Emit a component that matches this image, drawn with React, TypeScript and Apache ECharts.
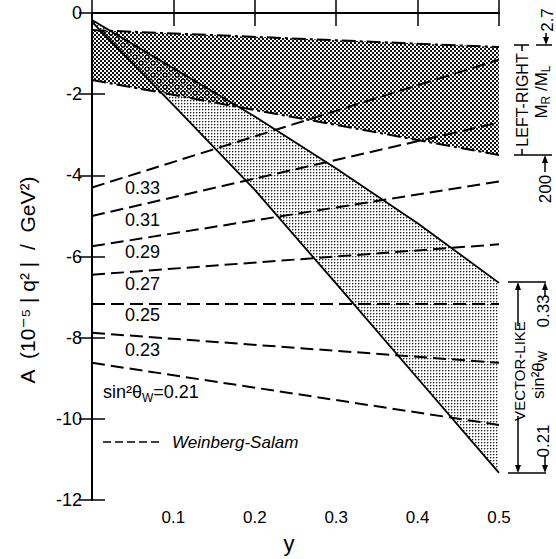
import React, { useEffect, useRef } from 'react';
import * as echarts from 'echarts';

// x positions (y variable)
const wsX = [0, 0.5];
// Weinberg-Salam predictions for several sin^2 theta_W
const ws033 = [-4.3, -1.15];
const ws031 = [-5.0, -2.7];
const ws029 = [-5.75, -4.15];
const ws027 = [-6.45, -5.7];
const ws025 = [-7.17, -7.17];
const ws023 = [-7.88, -8.62];
const ws021 = [-8.62, -10.15];
const wsLabels = ['0.33', '0.31', '0.29', '0.27', '0.25', '0.23'];

// Vector-like band (solid lines)
const vlX = [0, 0.1, 0.2, 0.3, 0.4, 0.5];
const vlUpper = [-0.17, -1.36, -2.55, -3.83, -5.18, -6.65];
const vlLower = [-0.22, -2.27, -4.36, -6.67, -9.0, -11.33];

// Left-right band (dash-dot lines)
const lrX = [0, 0.5];
const lrUpper = [-0.42, -0.84];
const lrLower = [-1.65, -3.5];

const FONT = 'Liberation Sans, Arial, DejaVu Sans, sans-serif';

function makePattern(size: number, cells: [number, number, string][]) {
  const c = document.createElement('canvas');
  c.width = size;
  c.height = size;
  const ctx = c.getContext('2d')!;
  for (const [x, y, col] of cells) {
    ctx.fillStyle = col;
    ctx.fillRect(x, y, 1, 1);
  }
  return { image: c, repeat: 'repeat', imageWidth: size, imageHeight: size } as any;
}

function regionSeries(pts: number[][], fill: any, z: number) {
  return {
    type: 'custom',
    coordinateSystem: 'cartesian2d',
    data: [pts[0]],
    z,
    silent: true,
    clip: true,
    renderItem: (_params: any, api: any) => ({
      type: 'polygon',
      shape: { points: pts.map((p) => api.coord(p)) },
      style: { fill, stroke: null },
    }),
  };
}

function lineSeries(xs: number[], ys: number[], type: any, width: number) {
  return {
    type: 'line',
    data: xs.map((x, i) => [x, ys[i]]),
    showSymbol: false,
    symbol: 'none',
    silent: true,
    z: 5,
    lineStyle: { color: '#000', width, type },
  };
}

function txt(text: string, x: number, y: number, size: number, opts: any = {}) {
  return {
    type: 'text',
    x,
    y,
    rotation: opts.rot || 0,
    z: 20,
    style: {
      text,
      fontSize: size,
      fontFamily: FONT,
      fontStyle: opts.italic ? 'italic' : 'normal',
      fill: '#000',
      align: opts.align || 'center',
      verticalAlign: 'middle',
      rich: opts.rich,
    },
  };
}

function seg(x1: number, y1: number, x2: number, y2: number, w = 1.5, dash?: number[]) {
  return {
    type: 'line',
    z: 20,
    shape: { x1, y1, x2, y2 },
    style: { stroke: '#000', lineWidth: w, lineDash: dash },
  };
}

function arrowHead(x: number, y: number, dir: 'up' | 'down') {
  const d = dir === 'up' ? 1 : -1;
  return {
    type: 'polygon',
    z: 20,
    shape: { points: [[x, y], [x - 3, y + 8 * d], [x + 3, y + 8 * d]] },
    style: { fill: '#000' },
  };
}

export default function App() {
  const ref = useRef<HTMLDivElement>(null);
  useEffect(() => {
    if (!ref.current) return;
    const chart = echarts.init(ref.current, undefined, { renderer: 'svg' });

    const lightFill = makePattern(3, [
      [1, 1, '#222'],
      [2, 1, '#aaa'],
      [1, 2, '#aaa'],
    ]);
    const darkFill = makePattern(4, [
      [0, 0, '#111'], [1, 0, '#111'], [0, 1, '#111'], [1, 1, '#111'],
      [2, 2, '#111'], [3, 2, '#111'], [2, 3, '#111'], [3, 3, '#111'],
    ]);

    const lightPoly = vlX.map((x, i) => [x, vlUpper[i]]).concat(
      vlX.map((x, i) => [x, vlLower[i]]).reverse()
    );
    const darkPoly = [
      [lrX[0], lrUpper[0]],
      [lrX[1], lrUpper[1]],
      [lrX[1], lrLower[1]],
      [lrX[0], lrLower[0]],
    ];

    const axisLine = { lineStyle: { color: '#000', width: 2 } };
    const axisTick = { inside: true, length: 13, lineStyle: { color: '#000', width: 1.5 } };
    const dashed = [13, 6];
    const dashDot = [14, 4, 3, 4];

    const subRich = {
      a: { fontSize: 18, fontFamily: FONT, lineHeight: 24, verticalAlign: 'middle' },
      s: { fontSize: 12, fontFamily: FONT, lineHeight: 24, verticalAlign: 'bottom' },
    };
    const subRich17 = {
      a: { fontSize: 17, fontFamily: FONT, lineHeight: 22, verticalAlign: 'middle' },
      s: { fontSize: 12, fontFamily: FONT, lineHeight: 22, verticalAlign: 'bottom' },
    };

    const wsLabelY = [188, 220, 252, 284, 315, 350];

    chart.setOption({
      animation: false,
      backgroundColor: '#fff',
      grid: { left: 92, top: 13, width: 407, height: 487, containLabel: false },
      xAxis: [
        {
          type: 'value', min: 0, max: 0.5, interval: 0.1, position: 'bottom',
          axisLine, axisTick, splitLine: { show: false },
          axisLabel: {
            color: '#000', fontSize: 17, fontFamily: FONT, margin: 9,
            formatter: (v: number) => (v === 0 ? '' : v.toFixed(1)),
          },
        },
        {
          type: 'value', min: 0, max: 0.5, interval: 0.1, position: 'top',
          axisLine, axisTick, splitLine: { show: false }, axisLabel: { show: false },
        },
      ],
      yAxis: [
        {
          type: 'value', min: -12, max: 0, interval: 2, position: 'left',
          axisLine, axisTick, splitLine: { show: false },
          axisLabel: { color: '#000', fontSize: 18, fontFamily: FONT, margin: 10 },
        },
        {
          type: 'value', min: -12, max: 0, interval: 2, position: 'right',
          axisLine, axisTick, splitLine: { show: false }, axisLabel: { show: false },
        },
      ],
      series: [
        regionSeries(lightPoly, lightFill, 1),
        regionSeries(darkPoly, darkFill, 2),
        lineSeries(vlX, vlUpper, 'solid', 1.8),
        lineSeries(vlX, vlLower, 'solid', 1.8),
        lineSeries(lrX, lrUpper, dashDot, 2),
        lineSeries(lrX, lrLower, dashDot, 2),
        lineSeries(wsX, ws033, dashed, 2),
        lineSeries(wsX, ws031, dashed, 2),
        lineSeries(wsX, ws029, dashed, 2),
        lineSeries(wsX, ws027, dashed, 2),
        lineSeries(wsX, ws025, dashed, 2),
        lineSeries(wsX, ws023, dashed, 2),
        lineSeries(wsX, ws021, dashed, 2),
      ],
      graphic: [
        // axis titles
        txt('A  (10⁻⁵ | q² |  /  GeV²)', 27, 280, 21, { rot: Math.PI / 2 }),
        txt('y', 289, 543, 22),
        // in-plot labels
        ...wsLabels.map((l, i) => txt(l, 125, wsLabelY[i], 18, { align: 'left' })),
        txt('{a|sin²θ}{s|W}{a|=0.21}', 103, 392, 18, { align: 'left', rich: subRich }),
        seg(103, 442, 163, 442, 1.5, [8, 4]),
        txt('Weinberg-Salam', 172, 442, 17, { align: 'left', italic: true }),
        // LEFT-RIGHT annotation
        seg(514, 45, 529, 45),
        seg(536, 45, 552, 45),
        seg(522, 45, 522, 51),
        seg(514, 155, 552, 155),
        seg(522, 149, 522, 155),
        txt('LEFT-RIGHT', 522, 100, 16, { rot: Math.PI / 2 }),
        txt('{a|M}{s|R}{a| /M}{s|L}', 541, 92, 17, { rot: Math.PI / 2, rich: subRich17 }),
        txt('2.7', 547, 20, 17, { rot: Math.PI / 2 }),
        seg(546, 33, 546, 40),
        arrowHead(546, 45, 'down'),
        txt('200', 545, 189, 17, { rot: Math.PI / 2 }),
        seg(545, 162, 545, 172),
        arrowHead(545, 155, 'up'),
        // VECTOR-LIKE annotation
        seg(508, 282, 546, 282),
        seg(508, 473, 546, 473),
        seg(518, 284, 518, 326),
        arrowHead(518, 282, 'up'),
        seg(518, 416, 518, 471),
        arrowHead(518, 473, 'down'),
        txt('VECTOR-LIKE', 519, 371, 15, { rot: Math.PI / 2 }),
        txt('{a|sin²θ}{s|W}', 538, 375, 17, { rot: Math.PI / 2, rich: subRich17 }),
        txt('0.33', 543, 311, 17, { rot: Math.PI / 2 }),
        seg(545, 290, 545, 297),
        arrowHead(545, 282, 'up'),
        txt('0.21', 543, 441, 17, { rot: Math.PI / 2 }),
        seg(545, 456, 545, 466),
        arrowHead(545, 473, 'down'),
      ],
    });
    return () => chart.dispose();
  }, []);
  return <div ref={ref} style={{ width: 556, height: 559, position: 'absolute', left: 0, top: 0 }} />;
}
